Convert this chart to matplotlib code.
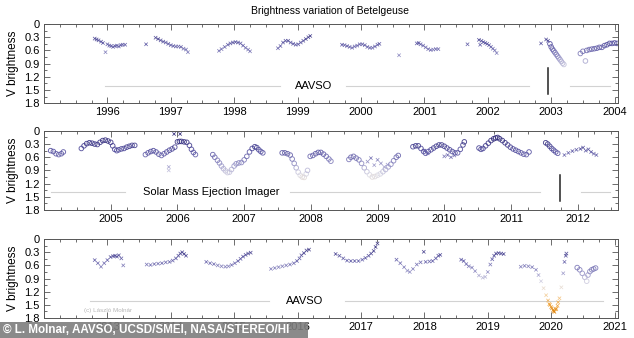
import matplotlib
matplotlib.use('Agg')
import matplotlib.pyplot as plt
import numpy as np
from matplotlib.colors import LinearSegmentedColormap, Normalize
from matplotlib.patches import Rectangle

plt.rcParams['font.family'] = ['Liberation Sans', 'DejaVu Sans']

# ---- panel 1: 1996-2004 (AAVSO visual, SMEI from 2003) ----
aavso1_t = [1995.80, 1995.83, 1995.86, 1995.90, 1995.93, 1995.97, 1996.00, 1996.03, 1996.06,
            1996.09, 1996.12, 1996.15, 1996.18, 1996.21, 1996.24, 1996.28,
            1996.61, 1996.76, 1996.80, 1996.84, 1996.88, 1996.92, 1996.96, 1997.00, 1997.04,
            1997.08, 1997.12, 1997.16, 1997.20, 1997.24, 1997.27,
            1997.76, 1997.80, 1997.85, 1997.90, 1997.94, 1997.98, 1998.02, 1998.06, 1998.10,
            1998.14, 1998.18, 1998.22, 1998.25,
            1998.69, 1998.73, 1998.77, 1998.81, 1998.85, 1998.89, 1998.93, 1998.97, 1999.01,
            1999.05, 1999.09, 1999.13, 1999.17, 1999.20,
            1999.70, 1999.74, 1999.78, 1999.82, 1999.86, 1999.90, 1999.94, 1999.98, 2000.02,
            2000.06, 2000.10, 2000.14, 2000.18, 2000.22, 2000.26, 2000.29, 2000.60,
            2000.88, 2000.91, 2000.94, 2000.98, 2001.02, 2001.06, 2001.10, 2001.14, 2001.18, 2001.22,
            2001.68, 2001.86, 2001.88, 2001.90, 2001.93, 2001.96, 2001.99, 2002.02, 2002.05,
            2002.08, 2002.11, 2002.14,
            2002.84, 2002.92, 2002.95]
aavso1_v = [0.33, 0.35, 0.37, 0.40, 0.43, 0.64, 0.46, 0.49, 0.50,
            0.52, 0.50, 0.49, 0.51, 0.48, 0.47, 0.47,
            0.46, 0.31, 0.34, 0.37, 0.40, 0.42, 0.45, 0.48, 0.50,
            0.51, 0.51, 0.52, 0.56, 0.58, 0.64,
            0.61, 0.57, 0.52, 0.47, 0.44, 0.42, 0.41, 0.42, 0.44,
            0.49, 0.54, 0.58, 0.62,
            0.55, 0.50, 0.42, 0.38, 0.38, 0.42, 0.45, 0.47, 0.46,
            0.42, 0.38, 0.34, 0.30, 0.27,
            0.47, 0.48, 0.50, 0.52, 0.54, 0.51, 0.49, 0.46, 0.46,
            0.48, 0.52, 0.54, 0.54, 0.51, 0.47, 0.45, 0.71,
            0.44, 0.43, 0.46, 0.49, 0.53, 0.57, 0.59, 0.58, 0.57, 0.57,
            0.46, 0.36, 0.47, 0.38, 0.41, 0.43, 0.45, 0.48, 0.52,
            0.56, 0.60, 0.66,
            0.44, 0.35, 0.38]
smei1_t = [2002.98, 2003.00, 2003.02, 2003.04, 2003.06, 2003.08, 2003.10, 2003.12, 2003.14,
           2003.16, 2003.18, 2003.20,
           2003.46, 2003.50, 2003.54, 2003.56, 2003.60, 2003.64, 2003.68, 2003.72, 2003.76,
           2003.80, 2003.84, 2003.88, 2003.92, 2003.96, 2004.00, 2004.04]
smei1_v = [0.45, 0.52, 0.57, 0.61, 0.65, 0.69, 0.73, 0.77, 0.81,
           0.85, 0.89, 0.92,
           0.67, 0.62, 0.84, 0.60, 0.58, 0.57, 0.56, 0.55, 0.53,
           0.53, 0.49, 0.47, 0.44, 0.44, 0.43, 0.44]

# ---- panel 2: 2004-2012 (SMEI) ----
smei2_t = [2004.10, 2004.14, 2004.18, 2004.22, 2004.26, 2004.29,
           2004.56, 2004.60, 2004.64, 2004.68, 2004.72, 2004.76, 2004.80, 2004.84, 2004.88,
           2004.92, 2004.96, 2005.00, 2005.03, 2005.06, 2005.09, 2005.12, 2005.16, 2005.20,
           2005.24, 2005.28, 2005.32, 2005.36,
           2005.52, 2005.56, 2005.60, 2005.64, 2005.68, 2005.72, 2005.76, 2005.80, 2005.84,
           2005.88, 2005.92, 2005.96, 2006.00, 2006.03, 2006.06, 2006.10, 2006.14, 2006.18,
           2006.21, 2006.24, 2006.27,
           2006.53, 2006.56, 2006.60, 2006.63, 2006.66, 2006.69, 2006.72, 2006.75, 2006.78,
           2006.81, 2006.85, 2006.88, 2006.92, 2006.96, 2007.00, 2007.04, 2007.08, 2007.12,
           2007.16, 2007.19, 2007.22, 2007.25, 2007.28,
           2007.57, 2007.61, 2007.65, 2007.69, 2007.72, 2007.75, 2007.78, 2007.81, 2007.84,
           2007.87, 2007.90, 2007.93, 2007.95,
           2007.99, 2008.03, 2008.07, 2008.11, 2008.15, 2008.19, 2008.23, 2008.27, 2008.30,
           2008.57, 2008.60, 2008.64, 2008.68, 2008.72, 2008.76, 2008.80, 2008.84, 2008.88,
           2008.92, 2008.96, 2009.00, 2009.04, 2009.08, 2009.12, 2009.16, 2009.20, 2009.24,
           2009.28, 2009.31,
           2009.53, 2009.57, 2009.61, 2009.65, 2009.69, 2009.72, 2009.76, 2009.80, 2009.84,
           2009.88, 2009.92, 2009.96, 2010.00, 2010.04, 2010.08, 2010.12, 2010.16, 2010.20,
           2010.24, 2010.28, 2010.30,
           2010.52, 2010.55, 2010.58, 2010.62, 2010.66, 2010.70, 2010.74, 2010.77, 2010.80,
           2010.83, 2010.87, 2010.91, 2010.95, 2010.99, 2011.03, 2011.07, 2011.11, 2011.15,
           2011.19, 2011.23, 2011.27,
           2011.52, 2011.55, 2011.58, 2011.61, 2011.64, 2011.67, 2011.70]
smei2_v = [0.45, 0.47, 0.52, 0.54, 0.52, 0.48,
           0.40, 0.34, 0.29, 0.27, 0.28, 0.30, 0.31, 0.26, 0.22,
           0.21, 0.23, 0.26, 0.34, 0.42, 0.45, 0.43, 0.41, 0.40,
           0.37, 0.35, 0.33, 0.33,
           0.54, 0.50, 0.47, 0.45, 0.48, 0.53, 0.56, 0.52, 0.48,
           0.44, 0.41, 0.37, 0.25, 0.24, 0.24, 0.25, 0.26, 0.33,
           0.42, 0.49, 0.54,
           0.54, 0.60, 0.67, 0.73, 0.80, 0.86, 0.91, 0.95, 0.94,
           0.88, 0.80, 0.75, 0.73, 0.72, 0.66, 0.58, 0.48, 0.40,
           0.36, 0.38, 0.43, 0.47, 0.50,
           0.50, 0.50, 0.52, 0.55, 0.64, 0.74, 0.84, 0.94, 1.01,
           1.05, 1.06, 0.98, 0.90,
           0.58, 0.56, 0.52, 0.49, 0.49, 0.53, 0.58, 0.64, 0.69,
           0.65, 0.60, 0.58, 0.62, 0.66, 0.74, 0.84, 0.93, 1.00,
           1.05, 1.04, 1.01, 0.98, 0.93, 0.88, 0.82, 0.76, 0.68,
           0.60, 0.56,
           0.36, 0.34, 0.34, 0.40, 0.47, 0.51, 0.47, 0.43, 0.39,
           0.35, 0.32, 0.32, 0.35, 0.39, 0.43, 0.47, 0.50, 0.50,
           0.42, 0.32, 0.25,
           0.39, 0.42, 0.40, 0.34, 0.28, 0.22, 0.18, 0.16, 0.15,
           0.18, 0.22, 0.27, 0.32, 0.37, 0.41, 0.44, 0.47, 0.50,
           0.53, 0.54, 0.48,
           0.27, 0.30, 0.35, 0.40, 0.44, 0.48, 0.51]
aavso2_t = [2005.95, 2006.04, 2005.87, 2005.87,
            2008.85, 2008.90, 2008.95, 2009.00, 2009.05, 2009.10, 2009.15,
            2009.70, 2009.75, 2010.00, 2010.05, 2010.10, 2010.15,
            2011.80, 2011.86, 2011.92, 2011.98, 2012.04, 2012.08, 2012.12, 2012.16, 2012.20,
            2012.24, 2012.28]
aavso2_v = [0.07, 0.07, 0.82, 0.90,
            0.70, 0.62, 0.78, 0.66, 0.74, 0.82, 0.77,
            0.45, 0.51, 0.58, 0.55, 0.60, 0.56,
            0.55, 0.50, 0.46, 0.43, 0.41, 0.38, 0.45, 0.42, 0.48,
            0.52, 0.55]

# ---- panel 3: 2013-2021 (AAVSO, STEREO/HI) ----
aavso3_t = [2012.80, 2012.85, 2012.90, 2012.95, 2013.00, 2013.05, 2013.09, 2013.12, 2013.15,
            2013.18, 2013.22, 2013.25,
            2013.62, 2013.68, 2013.74, 2013.80, 2013.86, 2013.92, 2013.98, 2014.03, 2014.08,
            2014.12, 2014.15, 2014.18, 2014.21, 2014.24,
            2014.56, 2014.62, 2014.68, 2014.74, 2014.80, 2014.86, 2014.91, 2014.96, 2015.01,
            2015.06, 2015.10, 2015.14, 2015.18, 2015.22, 2015.26,
            2015.58, 2015.64, 2015.70, 2015.76, 2015.82, 2015.88, 2015.94, 2015.99, 2016.03,
            2016.06, 2016.10, 2016.14, 2016.18,
            2016.60, 2016.66, 2016.72, 2016.78, 2016.84, 2016.90, 2016.96, 2017.02, 2017.07,
            2017.12, 2017.16, 2017.20, 2017.23, 2017.26,
            2017.56, 2017.62, 2017.68, 2017.73, 2017.77, 2017.82, 2017.88, 2017.94, 2017.99,
            2018.02, 2018.08, 2018.13, 2018.18, 2018.22, 2018.25,
            2018.58, 2018.62, 2018.66, 2018.70, 2018.75, 2018.80, 2018.86, 2018.92, 2018.96,
            2019.00, 2019.04, 2019.07, 2019.10, 2019.13, 2019.17, 2019.21, 2019.25,
            2019.52, 2019.58, 2019.64, 2019.70, 2019.76, 2019.80, 2019.84, 2019.88, 2019.92,
            2019.95, 2019.97, 2019.98, 2020.00, 2020.01, 2020.03, 2020.04, 2020.05, 2020.07,
            2020.08, 2020.10, 2020.11, 2020.13, 2020.16, 2020.19, 2020.21, 2020.23, 2020.24]
aavso3_v = [0.48, 0.55, 0.63, 0.55, 0.48, 0.41, 0.39, 0.38, 0.40,
            0.37, 0.44, 0.60,
            0.58, 0.59, 0.57, 0.56, 0.55, 0.53, 0.52, 0.49, 0.44,
            0.38, 0.33, 0.30, 0.34, 0.38,
            0.52, 0.55, 0.57, 0.60, 0.62, 0.63, 0.62, 0.59, 0.55,
            0.50, 0.45, 0.40, 0.36, 0.33, 0.31,
            0.68, 0.66, 0.64, 0.62, 0.60, 0.58, 0.55, 0.50, 0.44,
            0.37, 0.32, 0.26, 0.24,
            0.34, 0.38, 0.44, 0.49, 0.50, 0.50, 0.50, 0.47, 0.43,
            0.38, 0.33, 0.27, 0.18, 0.10,
            0.47, 0.55, 0.64, 0.72, 0.75, 0.68, 0.58, 0.53, 0.29,
            0.52, 0.51, 0.50, 0.44, 0.38, 0.36,
            0.47, 0.50, 0.57, 0.62, 0.65, 0.73, 0.83, 0.88, 0.86,
            0.75, 0.58, 0.46, 0.38, 0.33, 0.32, 0.33, 0.34,
            0.63, 0.61, 0.62, 0.64, 0.70, 0.82, 0.96, 1.12, 1.28,
            1.40, 1.48, 1.50, 1.55, 1.58, 1.62, 1.64, 1.66, 1.60,
            1.59, 1.52, 1.44, 1.35, 1.10, 0.78, 0.52, 0.38, 0.33]
stereo3_t = [2020.41, 2020.45, 2020.49, 2020.53, 2020.56, 2020.58, 2020.61, 2020.64, 2020.67, 2020.70]
stereo3_v = [0.65, 0.70, 0.78, 0.87, 0.96, 0.82, 0.74, 0.70, 0.68, 0.66]

# colour follows brightness: deep indigo when bright, pale grey near 1 mag, orange when faint
cmap = LinearSegmentedColormap.from_list('betel', [
    (0.00, '#2e2878'), (0.20, '#5550a0'), (0.40, '#9592c6'),
    (0.55, '#dcdbe6'), (0.70, '#f2d6ae'), (0.85, '#f2a53a'), (1.00, '#dd7f05')])
norm = Normalize(0.15, 1.7)

fig = plt.figure(figsize=(6.34, 3.38), dpi=100)
fig.text(0.52, 0.968, 'Brightness variation of Betelgeuse', ha='center', va='center', fontsize=7.5)

panels = [
    dict(xlim=(1995.65, 2004.05), years=range(1996, 2005), bottom=0.695,
         cross=(aavso1_t, aavso1_v), circ=(smei1_t, smei1_v),
         hlines=[(1995.96, 1998.73), (1999.76, 2002.65), (2003.30, 2003.93)],
         label='AAVSO', label_x=1999.25, vline=2002.95),
    dict(xlim=(2004.12, 2012.6), years=range(2005, 2013), bottom=0.379,
         cross=(aavso2_t, aavso2_v), circ=(smei2_t, smei2_v),
         hlines=[(2004.11, 2005.22), (2007.69, 2011.43), (2012.05, 2012.49)],
         label='Solar Mass Ejection Imager', label_x=2006.51, vline=2011.74),
    dict(xlim=(2012.55, 2021.05), years=range(2013, 2022), bottom=0.059,
         cross=(aavso3_t, aavso3_v), circ=(stereo3_t, stereo3_v),
         hlines=[(2012.73, 2015.55), (2016.75, 2020.82)],
         label='AAVSO', label_x=2016.11, vline=None),
]

for p in panels:
    ax = fig.add_axes([0.0694, p['bottom'], 0.905, 0.2337])
    ct, cv = p['cross']
    ax.scatter(ct, cv, marker='x', s=6, linewidths=0.55, alpha=0.85,
               color=cmap(norm(np.array(cv))), zorder=3)
    st, sv = p['circ']
    ax.scatter(st, sv, marker='o', s=11, linewidths=0.65, facecolors='none', alpha=0.9,
               edgecolors=cmap(norm(np.array(sv))), zorder=3)

    for x0, x1 in p['hlines']:
        ax.plot([x0, x1], [1.4, 1.4], color='#d2d2d2', lw=0.8, zorder=1)
    ax.text(p['label_x'], 1.4, p['label'], ha='center', va='center', fontsize=8)
    if p['vline'] is not None:
        ax.plot([p['vline'], p['vline']], [1.0, 1.6], color='#222222', lw=1.1)

    ax.set_xlim(*p['xlim'])
    ax.set_ylim(1.8, 0)
    ax.set_yticks(np.arange(0, 1.81, 0.3))
    ax.set_yticklabels(['0', '0.3', '0.6', '0.9', '1.2', '1.5', '1.8'])
    ax.set_yticks(np.arange(0, 1.81, 0.15), minor=True)
    ax.set_xticks(list(p['years']))
    ax.set_xticklabels([str(y) for y in p['years']])
    ax.set_xticks(np.arange(int(p['xlim'][0]), p['xlim'][1], 0.25), minor=True)
    ax.tick_params(which='both', direction='in', top=True, right=True,
                   labelsize=8, color='#555555', width=0.6)
    ax.tick_params(which='major', length=4, pad=3)
    ax.tick_params(which='minor', length=2)
    for s in ax.spines.values():
        s.set_color('#555555')
        s.set_linewidth(0.7)
    ax.set_ylabel('V brightness', fontsize=8.5, labelpad=4)

    if p['vline'] is None:
        ax.text(2012.63, 1.62, '(c) László Molnár', fontsize=4.5, color='#b8b8b8',
                ha='left', va='center')

# credit strip along the bottom left
fig.patches.append(Rectangle((0, 0), 0.486, 0.046, transform=fig.transFigure,
                             facecolor='#7d7d7d', alpha=0.9, zorder=10))
fig.text(0.004, 0.023, '© L. Molnar, AAVSO, UCSD/SMEI, NASA/STEREO/HI', color='white',
         fontsize=8.4, fontweight='bold', ha='left', va='center', zorder=11)

fig.savefig('out.png', dpi=100)
